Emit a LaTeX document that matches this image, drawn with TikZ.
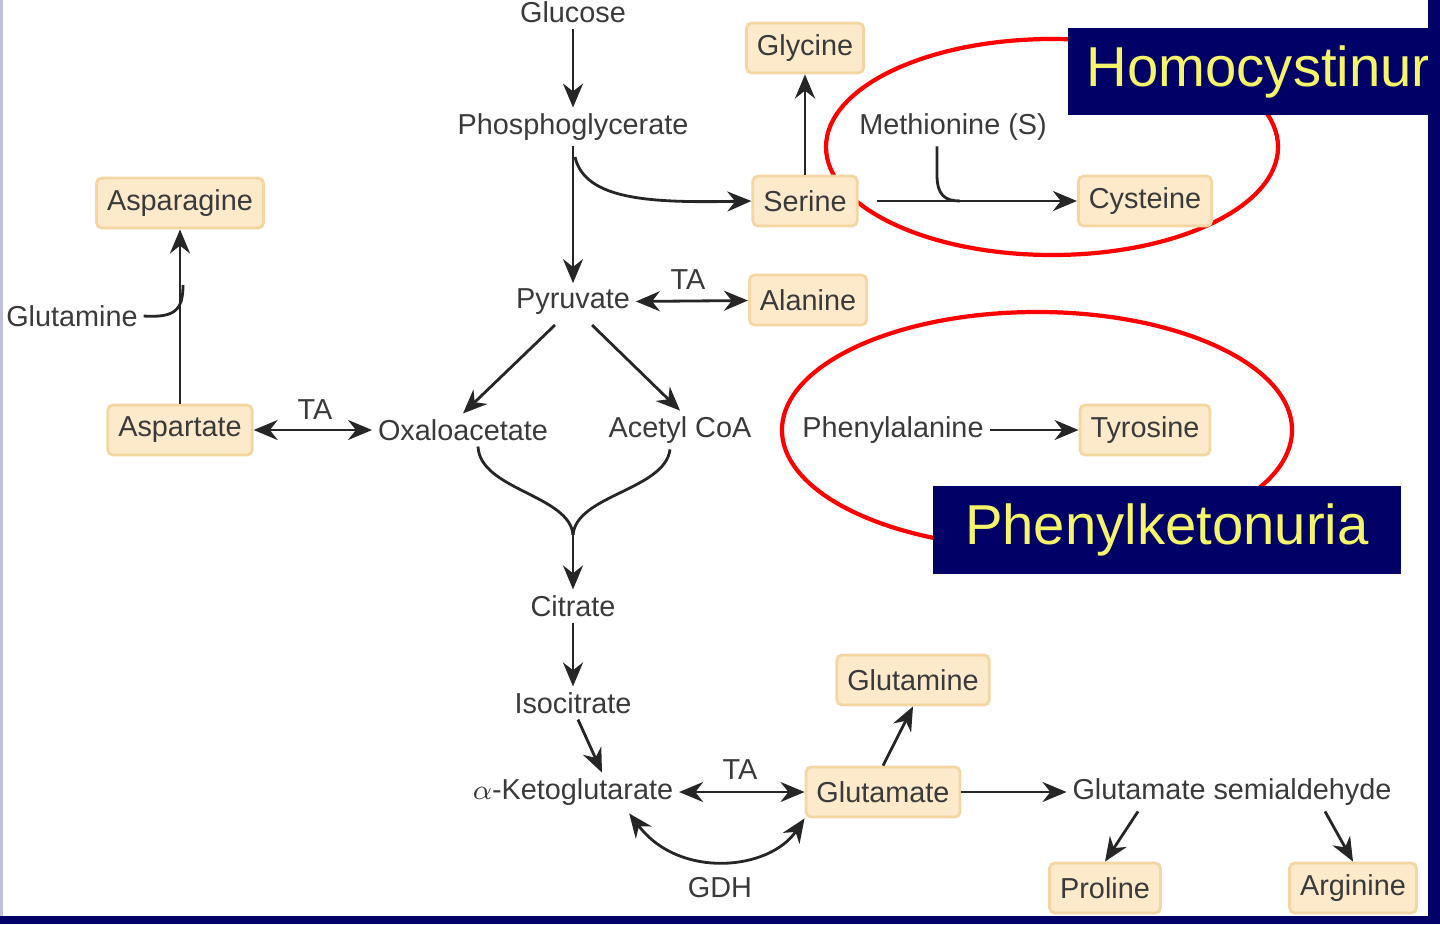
\documentclass[tikz,border=0pt]{standalone}
\usepackage{fontspec}
\setmainfont{Liberation Sans}
\usetikzlibrary{arrows.meta}
\definecolor{boxfill}{HTML}{FCEACB}
\definecolor{boxline}{HTML}{F3D6A2}
\definecolor{inktext}{HTML}{3A3A3A}
\definecolor{navy}{HTML}{000066}
\definecolor{titleyellow}{HTML}{F5F56A}
\tikzstyle{arrow} = [thick,-{Stealth[length=2.4mm,width=2mm]},draw=black!85]
\tikzstyle{both} = [thick,{Stealth[length=2.4mm,width=2mm]}-{Stealth[length=2.4mm,width=2mm]},draw=black!85]
\tikzstyle{plain} = [
        text=inktext,
        font=\fontsize{8.2}{10}\selectfont,
        inner sep=1.5pt
    ]
\tikzstyle{amino} = [
        plain,
        rectangle,
        rounded corners=1.5pt,
        minimum height=0.5cm,
        inner xsep=3pt,
        fill=boxfill,
        draw=boxline,
        line width=0.8pt
    ]
\tikzstyle{disease} = [
        rectangle,
        fill=navy,
        text=titleyellow,
        font=\fontsize{16}{19}\selectfont,
        inner sep=0pt
    ]

\begin{document}
\begin{tikzpicture}[x=0.01cm,y=-0.01cm]
    \useasboundingbox (0,0) rectangle (1440,924);
    \clip (0,0) rectangle (1440,924);

        % red rings
        \draw [red,line width=1.2pt] (1052,147) ellipse [x radius=226, y radius=108];
        \draw [red,line width=1.2pt] (1037,430) ellipse [x radius=255, y radius=118];

        \node [plain] (glucose) at (573,12) {Glucose};
        \node [plain] (pgly) at (573,127) {Phosphoglycerate};
        \node [amino] (glycine) at (805,48) {Glycine};
        \node [amino] (serine) at (805,201) {Serine};
        \node [plain] (methionine) at (953,127) {Methionine (S)};
        \node [amino] (cysteine) at (1145,201) {Cysteine};
        \node [amino] (asparagine) at (180,203) {Asparagine};
        \node [plain] (pyruvate) at (573,302) {Pyruvate};
        \node [plain] (ta1) at (688,280) {TA};
        \node [amino] (alanine) at (808,300) {Alanine};
        \node [plain] (glutamine1) at (72,316) {Glutamine};
        \node [amino] (aspartate) at (180,430) {Aspartate};
        \node [plain] (ta2) at (315,410) {TA};
        \node [plain] (oxalo) at (463,430) {Oxaloacetate};
        \node [plain] (acetyl) at (680,430) {Acetyl CoA};
        \node [plain] (phenyl) at (893,430) {Phenylalanine};
        \node [amino] (tyrosine) at (1145,430) {Tyrosine};
        \node [plain] (citrate) at (573,606) {Citrate};
        \node [plain] (isocitrate) at (573,703) {Isocitrate};
        \node [amino] (glutamine2) at (913,680) {Glutamine};
        \node [plain] (akg) at (573,792) {$\alpha$-Ketoglutarate};
        \node [plain] (ta3) at (740,770) {TA};
        \node [amino] (glutamate) at (883,792) {Glutamate};
        \node [plain] (semi) at (1232,792) {Glutamate semialdehyde};
        \node [amino] (proline) at (1105,888) {Proline};
        \node [amino] (arginine) at (1353,888) {Arginine};
        \node [plain] (gdh) at (720,888) {GDH};

        \coordinate (pgly1) at (575,157);
        \coordinate (metjoin) at (960,201);
        \coordinate (glnjoin) at (183,285);
        \coordinate (merge) at (573,535);
        \coordinate (pyrl) at (555,325);
        \coordinate (pyrr) at (592,325);

        \draw [arrow] (glucose) -- (pgly);
        \draw [arrow] (pgly) -- (pyruvate);
        \draw [arrow] (pgly1) .. controls (585,200) and (650,203) .. (serine.west);
        \draw [arrow] (serine) -- (glycine);
        \draw [arrow] (serine.east) ++(18,0) -- (cysteine.west);
        \draw [thick,black!85] (methionine.south -| 937,0) -- (937,175) .. controls (937,195) and (945,201) .. (metjoin);
        \draw [both] (pyruvate) -- (alanine);
        \draw [arrow] (pyrl) -- (oxalo.north);
        \draw [arrow] (pyrr) -- (acetyl.north);
        \draw [both] (aspartate) -- (oxalo);
        \draw [arrow] (phenyl) -- (tyrosine);
        \draw [arrow] (aspartate) -- (asparagine);
        \draw [thick,black!85] (glutamine1.east) .. controls (175,318) and (183,310) .. (glnjoin);
        \draw [thick,black!85] (oxalo.south) ++(15,0) .. controls (480,490) and (570,495) .. (merge);
        \draw [thick,black!85] (acetyl.south) ++(-10,0) .. controls (665,490) and (576,495) .. (merge);
        \draw [arrow] (merge) -- (citrate);
        \draw [arrow] (citrate) -- (isocitrate);
        \draw [arrow] (isocitrate.south) ++(5,0) -- (akg.north -| 602,0);
        \draw [both] (akg) -- (glutamate);
        \draw [arrow] (glutamate.north) -- (glutamine2.south);
        \draw [arrow] (glutamate) -- (semi);
        \draw [arrow] (semi.south -| 1138,0) -- (proline.north);
        \draw [arrow] (semi.south -| 1325,0) -- (arginine.north);
        \draw [both] (akg.south east) ++(-50,2) .. controls (680,880) and (770,870) .. (glutamate.south west);

        % disease labels
        \fill [navy] (1068,28) rectangle (1440,115);
        \node [disease, fill=none, anchor=west] (homo) at (1086,72) {Homocystinuria};
        \node [disease, minimum width=4.68cm, minimum height=0.88cm, anchor=north west] (pku) at (932,485) {Phenylketonuria};

        % frame
        \fill [navy] (1428,0) rectangle (1440,924);
        \fill [navy] (0,916) rectangle (1440,924);
        \draw [navy!25,line width=1pt] (1,0) -- (1,916);
\end{tikzpicture}
\end{document}
